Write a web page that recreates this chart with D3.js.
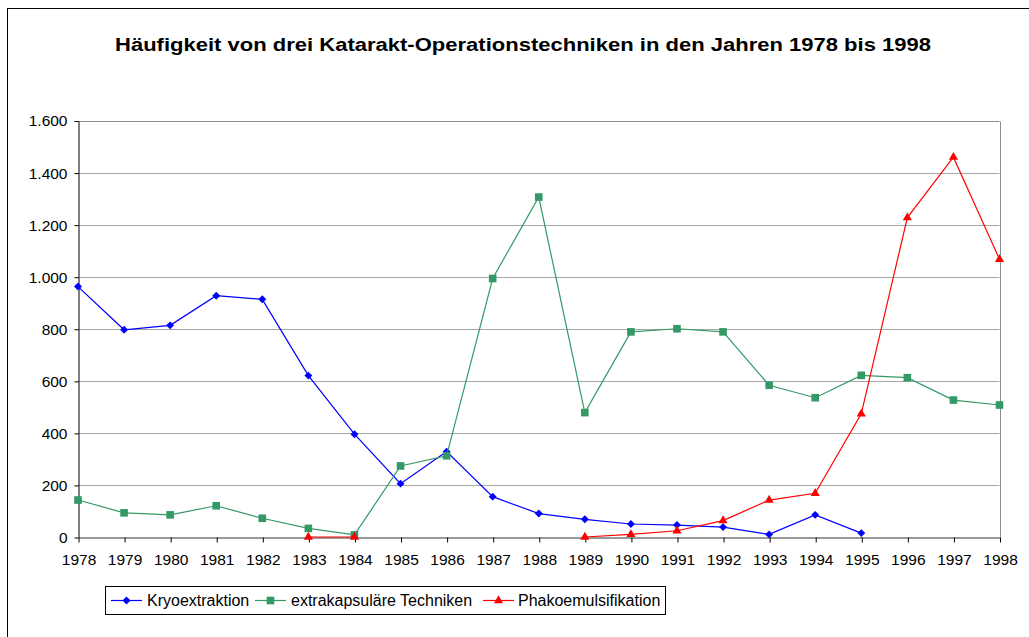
<!DOCTYPE html>
<html>
<head>
<meta charset="utf-8">
<script src="https://cdn.jsdelivr.net/npm/d3@7"></script>
<style>
  body { margin: 0; background: #fff; }
  svg { display: block; font-family: "Liberation Sans", Arial, sans-serif; }
</style>
</head>
<body>
<div id="chart"></div>
<script>
const title = "Häufigkeit von drei Katarakt-Operationstechniken in den Jahren 1978 bis 1998";
const years = ["1978","1979","1980","1981","1982","1983","1984","1985","1986","1987","1988",
  "1989","1990","1991","1992","1993","1994","1995","1996","1997","1998"];
const kryo = [962, 796, 813, 927, 913, 620, 395, 205, 328, 155, 90, 68, 50, 46, 38, 10, 85, 15, null, null, null];
const extra = [142, 93, 85, 120, 72, 33, 8, 273, 312, 993, 1306, 478, 788, 800, 788, 583, 535, 621, 612, 526, 507];
const phako = [null, null, null, null, null, 0, 0, null, null, null, null, 0, 10, 24, 63, 142, 168, 473, 1227, 1459, 1067];
const yTicks = [0, 200, 400, 600, 800, 1000, 1200, 1400, 1600];
const seriesNames = ["Kryoextraktion", "extrakapsuläre Techniken", "Phakoemulsifikation"];

const width = 1029;
const height = 637;
const plot = { left: 78, right: 999.5, top: 120.5, bottom: 537 };

const de = d3.formatLocale({ decimal: ",", thousands: ".", grouping: [3], currency: ["", " €"] });
const fmt = de.format(",");

const svg = d3.select("#chart").append("svg")
  .attr("width", width)
  .attr("height", height);

// outer chart frame (runs past the window on the right and bottom)
svg.append("rect")
  .attr("x", 7.5).attr("y", 8.5)
  .attr("width", 1200).attr("height", 800)
  .attr("fill", "none").attr("stroke", "#000");

svg.append("text")
  .attr("x", 115)
  .attr("y", 51)
  .attr("font-size", "18px")
  .attr("font-weight", "bold")
  .attr("textLength", 816)
  .attr("lengthAdjust", "spacingAndGlyphs")
  .text(title);

const x = d3.scalePoint().domain(years).range([plot.left, plot.right]);
const y = d3.scaleLinear().domain([0, 1600]).range([plot.bottom, plot.top]);

// gridlines
svg.append("g")
  .selectAll("line")
  .data(yTicks.filter(d => d > 0))
  .enter().append("line")
  .attr("x1", plot.left).attr("x2", plot.right)
  .attr("y1", d => Math.round(y(d)) + 0.5).attr("y2", d => Math.round(y(d)) + 0.5)
  .attr("stroke", d => d === 1600 ? "#8c8c8c" : "#a6a6a6");

// right border of plot area
svg.append("line")
  .attr("x1", Math.round(plot.right) + 0.5).attr("x2", Math.round(plot.right) + 0.5)
  .attr("y1", Math.round(y(1600)) + 0.5).attr("y2", plot.bottom)
  .attr("stroke", "#8c8c8c");

// y axis
const yAxis = svg.append("g")
  .attr("transform", `translate(${plot.left + 0.5},0.5)`)
  .call(d3.axisLeft(y).tickValues(yTicks).tickSize(4).tickSizeOuter(0).tickPadding(7).tickFormat(fmt));
yAxis.select(".domain").attr("stroke", "#000");
yAxis.selectAll(".tick line").attr("stroke", "#000");
yAxis.selectAll("text").attr("font-size", "15.5px").attr("fill", "#000")
  .attr("font-family", "'Liberation Sans', Arial, sans-serif");

// x axis
const xAxis = svg.append("g")
  .attr("transform", `translate(0.5,${plot.bottom + 0.5})`)
  .call(d3.axisBottom(x).tickSize(5).tickSizeOuter(0).tickPadding(11));
xAxis.select(".domain").attr("stroke", "#333");
xAxis.selectAll(".tick line").attr("stroke", "#000");
xAxis.selectAll("text").attr("font-size", "15.5px").attr("fill", "#000")
  .attr("font-family", "'Liberation Sans', Arial, sans-serif");

const series = [
  { name: seriesNames[0], values: kryo, color: "#0000ff", marker: d3.symbolDiamond2, size: 40 },
  { name: seriesNames[1], values: extra, color: "#339966", marker: d3.symbolSquare, size: 58 },
  { name: seriesNames[2], values: phako, color: "#ff0000", marker: d3.symbolTriangle, size: 36 }
];

const line = d3.line()
  .defined(d => d.v != null)
  .x(d => x(d.year))
  .y(d => y(d.v));

series.forEach(s => {
  const pts = years.map((yr, i) => ({ year: yr, v: s.values[i] }));
  svg.append("path")
    .datum(pts)
    .attr("fill", "none")
    .attr("stroke", s.color)
    .attr("stroke-width", 1.2)
    .attr("d", line);
  svg.append("g")
    .selectAll("path")
    .data(pts.filter(d => d.v != null))
    .enter().append("path")
    .attr("transform", d => `translate(${x(d.year)},${y(d.v)})`)
    .attr("d", d3.symbol().type(s.marker).size(s.size))
    .attr("fill", s.color);
});

// legend
const legend = svg.append("g");
legend.append("rect")
  .attr("x", 105.5).attr("y", 586.5)
  .attr("width", 560).attr("height", 28)
  .attr("fill", "#fff").attr("stroke", "#000");

const legendItems = [
  { lx: 111, tx: 147 },
  { lx: 255, tx: 291 },
  { lx: 483, tx: 518 }
];
series.forEach((s, i) => {
  const it = legendItems[i];
  legend.append("line")
    .attr("x1", it.lx).attr("x2", it.lx + 31)
    .attr("y1", 600.5).attr("y2", 600.5)
    .attr("stroke", s.color).attr("stroke-width", 1.2);
  legend.append("path")
    .attr("transform", `translate(${it.lx + 15.5},600.5)`)
    .attr("d", d3.symbol().type(s.marker).size(s.size))
    .attr("fill", s.color);
  legend.append("text")
    .attr("x", it.tx).attr("y", 606)
    .attr("font-size", "16px")
    .text(s.name);
});
</script>
</body>
</html>
